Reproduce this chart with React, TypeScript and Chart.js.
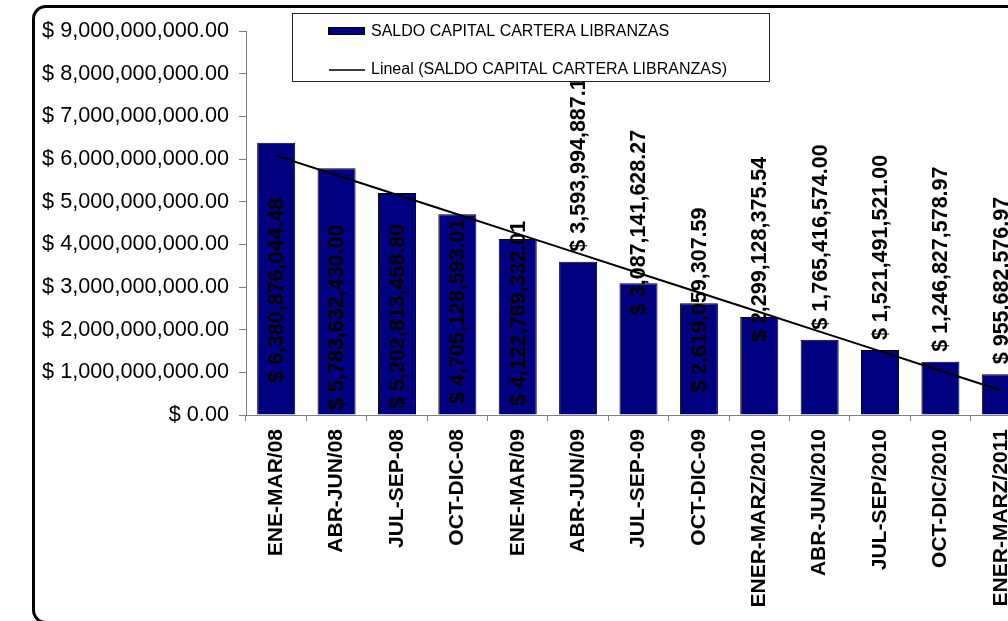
import React, { useEffect, useRef } from "react";
import { Chart, registerables } from "chart.js";

Chart.register(...registerables);

const categories = [
  "ENE-MAR/08",
  "ABR-JUN/08",
  "JUL-SEP-08",
  "OCT-DIC-08",
  "ENE-MAR/09",
  "ABR-JUN/09",
  "JUL-SEP-09",
  "OCT-DIC-09",
  "ENER-MARZ/2010",
  "ABR-JUN/2010",
  "JUL-SEP/2010",
  "OCT-DIC/2010",
  "ENER-MARZ/2011",
];

const saldoValues = [
  6380876044.48,
  5783632430.0,
  5202813458.8,
  4705128593.01,
  4122769332.01,
  3593994887.1,
  3087141628.27,
  2619059307.59,
  2299128375.54,
  1765416574.0,
  1521491521.0,
  1246827578.97,
  955682576.97,
];

// where each data label starts (value units); null = just above the bar
const labelBaseValues: (number | null)[] = [
  0.75e9, 0.12e9, 0.14e9, 0.26e9, 0.21e9, null, 2.34e9, 0.52e9, 1.71e9, null, null, null, null,
];

const yTickValues = [0, 1e9, 2e9, 3e9, 4e9, 5e9, 6e9, 7e9, 8e9, 9e9];

const seriesLabel = "SALDO CAPITAL CARTERA LIBRANZAS";
const trendLabel = "Lineal (SALDO CAPITAL CARTERA LIBRANZAS)";

const FONT = "'Liberation Sans', Arial, sans-serif";

function money(v: number) {
  return (
    "$ " +
    v.toLocaleString("en-US", { minimumFractionDigits: 2, maximumFractionDigits: 2 })
  );
}

function linearTrend(vals: number[]) {
  const n = vals.length;
  const xs = vals.map((_, i) => i + 1);
  const mx = xs.reduce((a, b) => a + b, 0) / n;
  const my = vals.reduce((a, b) => a + b, 0) / n;
  let sxy = 0;
  let sxx = 0;
  for (let i = 0; i < n; i++) {
    sxy += (xs[i] - mx) * (vals[i] - my);
    sxx += (xs[i] - mx) * (xs[i] - mx);
  }
  const slope = sxy / sxx;
  return xs.map((x) => my + slope * (x - mx));
}

const labelsPlugin = {
  id: "barLabels",
  afterDatasetsDraw(chart: any) {
    const meta = chart.getDatasetMeta(0);
    const ys = chart.scales.y;
    const ctx = chart.ctx;
    ctx.save();
    ctx.font = `bold 21.5px ${FONT}`;
    ctx.fillStyle = "#000";
    ctx.textAlign = "left";
    ctx.textBaseline = "middle";
    meta.data.forEach((bar: any, i: number) => {
      const base = labelBaseValues[i];
      const y = base == null ? bar.y - 10 : ys.getPixelForValue(base);
      ctx.save();
      ctx.translate(bar.x, y);
      ctx.rotate(-Math.PI / 2);
      ctx.fillText(money(saldoValues[i]), 0, 1);
      ctx.restore();
    });
    ctx.restore();
  },
};

const legendPlugin = {
  id: "boxLegend",
  afterDraw(chart: any) {
    const ctx = chart.ctx;
    ctx.save();
    ctx.fillStyle = "#fff";
    ctx.fillRect(292, 13, 478, 69);
    ctx.strokeStyle = "#222";
    ctx.lineWidth = 1;
    ctx.strokeRect(292.5, 13.5, 477, 68);
    // bar swatch
    ctx.fillStyle = "#000080";
    ctx.fillRect(328, 27, 37, 8);
    ctx.strokeStyle = "#000";
    ctx.strokeRect(328.5, 27.5, 36, 7);
    // line swatch
    ctx.beginPath();
    ctx.moveTo(329, 70);
    ctx.lineTo(365, 70);
    ctx.lineWidth = 1.5;
    ctx.stroke();
    ctx.font = `16px ${FONT}`;
    ctx.fillStyle = "#000";
    ctx.textAlign = "left";
    ctx.textBaseline = "middle";
    ctx.fillText(chart.data.datasets[0].label, 371, 32);
    ctx.fillText(chart.data.datasets[1].label, 371, 70);
    ctx.restore();
  },
};

export default function App() {
  const ref = useRef<HTMLCanvasElement>(null);
  useEffect(() => {
    if (!ref.current) return;
    const chart = new Chart(ref.current, {
      type: "bar",
      data: {
        labels: categories,
        datasets: [
          {
            type: "bar",
            label: seriesLabel,
            data: saldoValues,
            backgroundColor: "#000080",
            borderColor: "#000",
            borderWidth: 1,
            barPercentage: 0.63,
            categoryPercentage: 1,
            order: 1,
          },
          {
            type: "line",
            label: trendLabel,
            data: linearTrend(saldoValues),
            borderColor: "#000",
            borderWidth: 2,
            pointRadius: 0,
            fill: false,
            order: 0,
          } as any,
        ],
      },
      options: {
        responsive: false,
        animation: false,
        devicePixelRatio: 1,
        layout: { padding: { left: 0, right: 19, top: 31, bottom: 0 } },
        plugins: {
          legend: { display: false },
          tooltip: { enabled: false },
        },
        scales: {
          x: {
            offset: true,
            grid: {
              display: true,
              drawOnChartArea: false,
              offset: true,
              tickLength: 6,
              color: "#808080",
            },
            border: { color: "#808080", width: 1 },
            ticks: {
              autoSkip: false,
              minRotation: 90,
              maxRotation: 90,
              padding: 8,
              color: "#000",
              font: { family: FONT, size: 21, weight: "bold" },
            },
            afterFit(scale: any) {
              scale.height = 206;
            },
          },
          y: {
            min: 0,
            max: 9e9,
            afterBuildTicks(scale: any) {
              scale.ticks = yTickValues.map((v) => ({ value: v }));
            },
            grid: {
              display: true,
              drawOnChartArea: false,
              tickLength: 7,
              color: "#808080",
            },
            border: { color: "#808080", width: 1 },
            ticks: {
              padding: 10,
              color: "#000",
              font: { family: FONT, size: 21.7 },
              callback: (v: any) => money(Number(v)),
            },
            afterFit(scale: any) {
              scale.width = 246;
            },
          },
        },
      },
      plugins: [labelsPlugin, legendPlugin],
    });
    return () => chart.destroy();
  }, []);

  return (
    <div
      style={{
        position: "absolute",
        left: 0,
        top: 0,
        width: 1008,
        height: 621,
        overflow: "hidden",
        background: "#fff",
      }}
    >
      <div
        style={{
          position: "absolute",
          left: 32,
          top: 5,
          width: 1100,
          height: 619,
          boxSizing: "border-box",
          border: "3px solid #000",
          borderRadius: 14,
        }}
      />
      <canvas
        ref={ref}
        width={1050}
        height={621}
        style={{ position: "absolute", left: 0, top: 0, width: 1050, height: 621 }}
      />
    </div>
  );
}
